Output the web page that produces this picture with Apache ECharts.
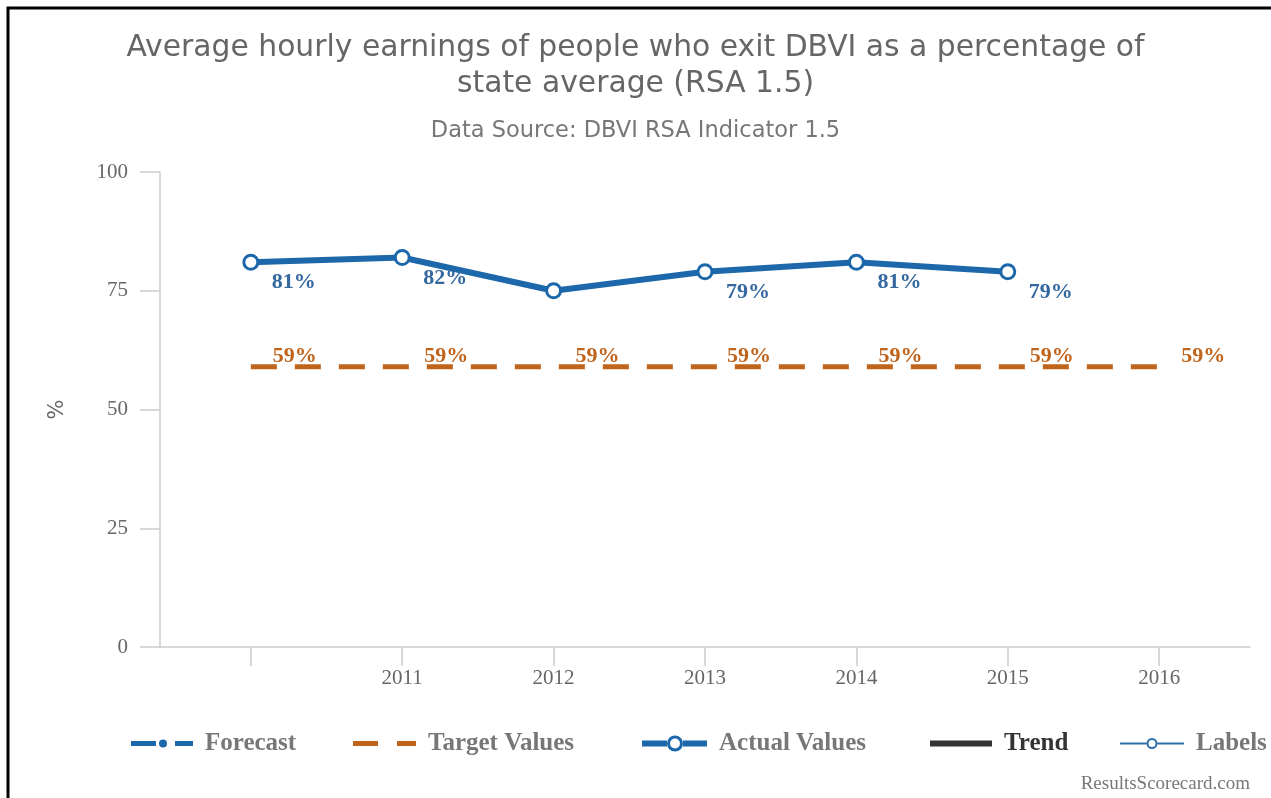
<!DOCTYPE html>
<html>
<head>
<meta charset="utf-8">
<script src="https://cdn.jsdelivr.net/npm/echarts@6/dist/echarts.min.js"></script>
<style>
  html, body { margin: 0; padding: 0; background: #fff; }
  #chart { width: 1271px; height: 798px; }
</style>
</head>
<body>
<div id="chart"></div>
<script>
// chart data
const years = ['', '2011', '2012', '2013', '2014', '2015', '2016'];
const actualValues = [81, 82, 75, 79, 81, 79];
const targetValues = [59, 59, 59, 59, 59, 59, 59];
const yTicks = [0, 25, 50, 75, 100];
// 2012 has no value label in the original
const hiddenActualLabels = [2];

const BLUE = '#1c68aa';
const ORANGE = '#c0631b';
const serif = '"Liberation Serif", "DejaVu Serif", serif';
const sans = '"DejaVu Sans", sans-serif';

// legend icons (paths drawn at 1:1 scale)
const icons = {
  'Forecast': 'path://M0,-2.5h25v5h-25z M36,0A4,4 0 1,1 28,0A4,4 0 1,1 36,0Z M44,-2.5h18v5h-18z',
  'Target Values': 'path://M0,-2.5h25v5h-25z M44,-2.5h19v5h-19z',
  'Actual Values': 'path://M0,-3h25v6h-25z M41,0A8,8 0 1,1 25,0A8,8 0 1,1 41,0Z M38,0A5,5 0 1,0 28,0A5,5 0 1,0 38,0Z M41,-3h24v6h-24z',
  'Trend': 'path://M0,-3h62v6h-62z',
  'Labels': 'path://M0,-1h26.5v2h-26.5z M37.5,0A5.5,5.5 0 1,1 26.5,0A5.5,5.5 0 1,1 37.5,0Z M35.5,0A3.5,3.5 0 1,0 28.5,0A3.5,3.5 0 1,0 35.5,0Z M37.5,-1h26.5v2h-26.5z'
};
const legendItems = [
  { name: 'Forecast', left: 131, width: 62, color: BLUE, text: '#777' },
  { name: 'Target Values', left: 353, width: 63, color: ORANGE, text: '#777' },
  { name: 'Actual Values', left: 642, width: 65, color: BLUE, text: '#777' },
  { name: 'Trend', left: 930, width: 62, color: '#333', text: '#333' },
  { name: 'Labels', left: 1120, width: 64, color: '#2f6ea8', text: '#777' }
];

const chart = echarts.init(document.getElementById('chart'));

// x is a value axis so the first/last year can sit away from the y axis
const toPoints = arr => arr.map((v, i) => [i, v]);

const option = {
  animation: false,
  title: [
    {
      text: 'Average hourly earnings of people who exit DBVI as a percentage of\nstate average (RSA 1.5)',
      left: 'center', top: 25,
      padding: [5, 0, 5, 22],
      textStyle: { fontFamily: sans, fontSize: 29.8, fontWeight: 'normal', color: '#666', lineHeight: 36 }
    },
    {
      text: 'Data Source: DBVI RSA Indicator 1.5',
      left: 'center', top: 115,
      padding: [5, 0, 5, 22],
      textStyle: { fontFamily: sans, fontSize: 22.5, fontWeight: 'normal', color: '#777' }
    }
  ],
  grid: { left: 160, right: 21, top: 172, bottom: 151 },
  xAxis: {
    type: 'value',
    min: -0.6, max: 6.6,
    axisLine: { show: true, lineStyle: { color: '#ccc', width: 1.5 } },
    axisTick: { show: true, length: 19, customValues: [0, 1, 2, 3, 4, 5, 6], lineStyle: { color: '#ccc', width: 1.5 } },
    axisLabel: {
      customValues: [1, 2, 3, 4, 5, 6],
      formatter: v => years[v],
      fontFamily: serif, fontSize: 21, color: '#666', margin: 21
    },
    splitLine: { show: false }
  },
  yAxis: {
    type: 'value',
    min: yTicks[0], max: yTicks[yTicks.length - 1], interval: 25,
    name: '%',
    nameLocation: 'middle',
    nameGap: 92,
    nameRotate: 90,
    nameTextStyle: { fontFamily: sans, fontSize: 21, color: '#666' },
    axisLine: { show: true, onZero: false, lineStyle: { color: '#ccc', width: 1.5 } },
    axisTick: { show: true, length: 20, lineStyle: { color: '#ccc', width: 1.5 } },
    axisLabel: { fontFamily: serif, fontSize: 21, color: '#666', margin: 32 },
    splitLine: { show: false }
  },
  legend: legendItems.map(it => ({
    left: it.left, top: 731,
    padding: 0,
    itemWidth: it.width, itemHeight: 20,
    symbolKeepAspect: true,
    textStyle: { fontFamily: serif, fontSize: 25, fontWeight: 'bold', color: it.text, padding: [0, 0, 0, 7] },
    data: [{
      name: it.name,
      icon: icons[it.name],
      itemStyle: { color: it.color, borderWidth: 0 }
    }]
  })),
  graphic: [
    {
      type: 'rect',
      shape: { x: 8, y: 8, width: 1400, height: 1000 },
      style: { fill: 'none', stroke: '#000', lineWidth: 3 },
      silent: true
    },
    {
      type: 'text',
      right: 21, bottom: 4,
      style: { text: 'ResultsScorecard.com', fontFamily: serif, fontSize: 19, fill: '#777' }
    }
  ],
  series: [
    {
      name: 'Forecast', type: 'line', data: [],
      itemStyle: { color: BLUE },
      lineStyle: { color: BLUE, width: 5, type: [22, 10] }
    },
    {
      name: 'Target Values', type: 'line', data: toPoints(targetValues),
      symbol: 'circle', symbolSize: 0,
      itemStyle: { color: ORANGE },
      lineStyle: { color: ORANGE, width: 5, type: [26, 18] },
      label: {
        show: true, position: 'top', offset: [44, 6],
        formatter: p => p.value[1] + '%',
        fontFamily: serif, fontSize: 22, fontWeight: 'bold', color: ORANGE
      },
      z: 2
    },
    {
      name: 'Actual Values', type: 'line',
      data: actualValues.map((v, i) => ({
        value: [i, v],
        label: { show: hiddenActualLabels.indexOf(i) < 0 }
      })),
      symbol: 'circle', symbolSize: 14,
      itemStyle: { color: '#fff', borderColor: BLUE, borderWidth: 3 },
      lineStyle: { color: BLUE, width: 6 },
      label: {
        show: true, position: 'bottom', offset: [43, -4],
        formatter: p => p.value[1] + '%',
        fontFamily: serif, fontSize: 22, fontWeight: 'bold', color: '#34689f'
      },
      z: 3
    },
    {
      name: 'Trend', type: 'line', data: [],
      itemStyle: { color: '#333' },
      lineStyle: { color: '#333', width: 5 }
    },
    {
      name: 'Labels', type: 'line', data: [],
      itemStyle: { color: '#2f6ea8' },
      lineStyle: { color: '#2f6ea8', width: 2 }
    }
  ]
};

chart.setOption(option);
</script>
</body>
</html>
